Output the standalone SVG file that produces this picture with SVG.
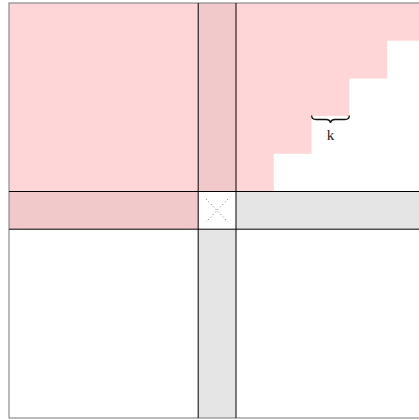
<svg xmlns="http://www.w3.org/2000/svg" width="419" height="420" viewBox="0 0 419 420">
<style>
.pink{fill:#ffd6d7}
.dpink{fill:#f2c9cb}
.gray{fill:#e5e5e5}
.line{stroke:#000;stroke-width:1;fill:none}
.outer{stroke:#777;stroke-width:1;fill:none}
.x{stroke:#333;stroke-width:0.8;stroke-dasharray:0.9 2.6;fill:none}
.lbl{font-family:"Liberation Serif","DejaVu Serif",serif;font-size:15px;fill:#222}
</style>
<rect width="419" height="420" fill="#fff"/>
<g id="regions">
<rect class="pink" x="9" y="3" width="189.2" height="188.5"/>
<rect class="dpink" x="198.2" y="3" width="37.8" height="188.5"/>
<rect class="dpink" x="9" y="191.5" width="189.2" height="37.7"/>
<path class="pink" d="M236,3 H424 V40.7 H387.2 V78.4 H349.4 V116.1 H311.6 V153.8 H273.8 V191.5 H236 Z"/>
<rect class="gray" x="198.2" y="229.2" width="37.8" height="188.8"/>
<rect class="gray" x="236" y="191.5" width="188" height="37.7"/>
</g>
<g id="connectors">
<rect class="outer" x="9" y="3" width="415" height="415"/>
<line class="line" x1="198.2" y1="3" x2="198.2" y2="418"/>
<line class="line" x1="236" y1="3" x2="236" y2="418"/>
<line class="line" x1="9" y1="191.5" x2="424" y2="191.5"/>
<line class="line" x1="9" y1="229.2" x2="424" y2="229.2"/>
<path class="x" d="M206,199 L228,222 M228,199 L206,222"/>
</g>
<g id="brace">
<path d="M311.6,115.5 Q311.8,119.5 316,119.5 H326 Q330,119.5 330.5,123 Q331,119.5 335,119.5 H345 Q349.2,119.5 349.4,115.5" fill="none" stroke="#111" stroke-width="1.3"/>
<text class="lbl" x="330.5" y="139.5" text-anchor="middle">k</text>
</g>
</svg>
